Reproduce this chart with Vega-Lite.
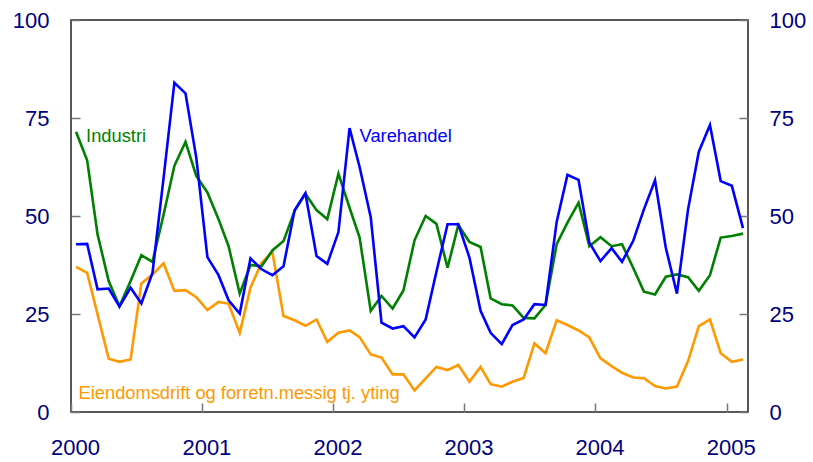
{
  "$schema": "https://vega.github.io/schema/vega-lite/v6.json",
  "width": 677,
  "height": 392,
  "autosize": {"type": "none"},
  "padding": {"left": 71, "top": 20, "right": 65, "bottom": 50},
  "background": "white",
  "config": {
    "view": {"stroke": "#222222", "strokeWidth": 1.5},
    "font": "Liberation Sans"
  },
  "datasets": {
    "series": [
      {"date": "2000-01-15", "Industri": 71.5, "Varehandel": 42.8, "Eiendomsdrift": 37.0},
      {"date": "2000-02-15", "Industri": 64.2, "Varehandel": 42.9, "Eiendomsdrift": 35.5},
      {"date": "2000-03-15", "Industri": 45.3, "Varehandel": 31.3, "Eiendomsdrift": 24.9},
      {"date": "2000-04-15", "Industri": 33.4, "Varehandel": 31.5, "Eiendomsdrift": 13.6},
      {"date": "2000-05-15", "Industri": 27.0, "Varehandel": 26.9, "Eiendomsdrift": 12.8},
      {"date": "2000-06-15", "Industri": 33.4, "Varehandel": 31.7, "Eiendomsdrift": 13.4},
      {"date": "2000-07-15", "Industri": 40.0, "Varehandel": 27.7, "Eiendomsdrift": 32.8},
      {"date": "2000-08-15", "Industri": 38.3, "Varehandel": 35.5, "Eiendomsdrift": 35.1},
      {"date": "2000-09-15", "Industri": 50.4, "Varehandel": 59.8, "Eiendomsdrift": 37.9},
      {"date": "2000-10-15", "Industri": 62.8, "Varehandel": 84.0, "Eiendomsdrift": 30.9},
      {"date": "2000-11-15", "Industri": 68.9, "Varehandel": 81.3, "Eiendomsdrift": 31.1},
      {"date": "2000-12-15", "Industri": 60.2, "Varehandel": 64.9, "Eiendomsdrift": 29.3},
      {"date": "2001-01-15", "Industri": 56.0, "Varehandel": 39.5, "Eiendomsdrift": 26.0},
      {"date": "2001-02-15", "Industri": 49.2, "Varehandel": 34.9, "Eiendomsdrift": 28.1},
      {"date": "2001-03-15", "Industri": 42.3, "Varehandel": 28.5, "Eiendomsdrift": 27.6},
      {"date": "2001-04-15", "Industri": 30.2, "Varehandel": 25.1, "Eiendomsdrift": 20.2},
      {"date": "2001-05-15", "Industri": 37.5, "Varehandel": 39.2, "Eiendomsdrift": 31.7},
      {"date": "2001-06-15", "Industri": 37.2, "Varehandel": 36.4, "Eiendomsdrift": 38.1},
      {"date": "2001-07-15", "Industri": 41.2, "Varehandel": 34.9, "Eiendomsdrift": 40.8},
      {"date": "2001-08-15", "Industri": 43.6, "Varehandel": 37.2, "Eiendomsdrift": 24.5},
      {"date": "2001-09-15", "Industri": 51.3, "Varehandel": 51.5, "Eiendomsdrift": 23.4},
      {"date": "2001-10-15", "Industri": 55.7, "Varehandel": 55.8, "Eiendomsdrift": 22.0},
      {"date": "2001-11-15", "Industri": 51.5, "Varehandel": 39.8, "Eiendomsdrift": 23.6},
      {"date": "2001-12-15", "Industri": 49.2, "Varehandel": 37.8, "Eiendomsdrift": 17.9},
      {"date": "2002-01-15", "Industri": 60.8, "Varehandel": 45.9, "Eiendomsdrift": 20.2},
      {"date": "2002-02-15", "Industri": 52.1, "Varehandel": 72.4, "Eiendomsdrift": 20.8},
      {"date": "2002-03-15", "Industri": 44.5, "Varehandel": 62.5, "Eiendomsdrift": 19.1},
      {"date": "2002-04-15", "Industri": 25.8, "Varehandel": 49.7, "Eiendomsdrift": 14.7},
      {"date": "2002-05-15", "Industri": 29.6, "Varehandel": 22.8, "Eiendomsdrift": 13.9},
      {"date": "2002-06-15", "Industri": 26.4, "Varehandel": 21.3, "Eiendomsdrift": 9.6},
      {"date": "2002-07-15", "Industri": 31.0, "Varehandel": 21.9, "Eiendomsdrift": 9.6},
      {"date": "2002-08-15", "Industri": 43.8, "Varehandel": 19.0, "Eiendomsdrift": 5.5},
      {"date": "2002-09-15", "Industri": 50.0, "Varehandel": 23.6, "Eiendomsdrift": 8.6},
      {"date": "2002-10-15", "Industri": 48.0, "Varehandel": 35.8, "Eiendomsdrift": 11.5},
      {"date": "2002-11-15", "Industri": 36.8, "Varehandel": 47.9, "Eiendomsdrift": 10.7},
      {"date": "2002-12-15", "Industri": 47.7, "Varehandel": 47.9, "Eiendomsdrift": 12.0},
      {"date": "2003-01-15", "Industri": 43.4, "Varehandel": 39.4, "Eiendomsdrift": 7.7},
      {"date": "2003-02-15", "Industri": 42.1, "Varehandel": 25.8, "Eiendomsdrift": 11.5},
      {"date": "2003-03-15", "Industri": 29.0, "Varehandel": 20.2, "Eiendomsdrift": 7.1},
      {"date": "2003-04-15", "Industri": 27.5, "Varehandel": 17.3, "Eiendomsdrift": 6.5},
      {"date": "2003-05-15", "Industri": 27.2, "Varehandel": 22.2, "Eiendomsdrift": 7.7},
      {"date": "2003-06-15", "Industri": 24.0, "Varehandel": 23.6, "Eiendomsdrift": 8.7},
      {"date": "2003-07-15", "Industri": 23.9, "Varehandel": 27.5, "Eiendomsdrift": 17.5},
      {"date": "2003-08-15", "Industri": 27.3, "Varehandel": 27.3, "Eiendomsdrift": 15.0},
      {"date": "2003-09-15", "Industri": 42.8, "Varehandel": 48.5, "Eiendomsdrift": 23.4},
      {"date": "2003-10-15", "Industri": 48.3, "Varehandel": 60.5, "Eiendomsdrift": 22.2},
      {"date": "2003-11-15", "Industri": 53.4, "Varehandel": 59.2, "Eiendomsdrift": 20.8},
      {"date": "2003-12-15", "Industri": 42.3, "Varehandel": 43.2, "Eiendomsdrift": 19.0},
      {"date": "2004-01-15", "Industri": 44.6, "Varehandel": 38.5, "Eiendomsdrift": 13.7},
      {"date": "2004-02-15", "Industri": 42.3, "Varehandel": 41.8, "Eiendomsdrift": 11.7},
      {"date": "2004-03-15", "Industri": 42.8, "Varehandel": 38.3, "Eiendomsdrift": 10.0},
      {"date": "2004-04-15", "Industri": 36.8, "Varehandel": 43.6, "Eiendomsdrift": 8.8},
      {"date": "2004-05-15", "Industri": 30.7, "Varehandel": 51.7, "Eiendomsdrift": 8.6},
      {"date": "2004-06-15", "Industri": 30.0, "Varehandel": 59.1, "Eiendomsdrift": 6.6},
      {"date": "2004-07-15", "Industri": 34.5, "Varehandel": 41.9, "Eiendomsdrift": 6.0},
      {"date": "2004-08-15", "Industri": 35.1, "Varehandel": 30.2, "Eiendomsdrift": 6.5},
      {"date": "2004-09-15", "Industri": 34.4, "Varehandel": 51.7, "Eiendomsdrift": 13.0},
      {"date": "2004-10-15", "Industri": 30.9, "Varehandel": 66.4, "Eiendomsdrift": 21.9},
      {"date": "2004-11-15", "Industri": 34.9, "Varehandel": 73.2, "Eiendomsdrift": 23.6},
      {"date": "2004-12-15", "Industri": 44.5, "Varehandel": 58.9, "Eiendomsdrift": 15.0},
      {"date": "2005-01-15", "Industri": 44.9, "Varehandel": 57.7, "Eiendomsdrift": 12.8},
      {"date": "2005-02-15", "Industri": 45.5, "Varehandel": 46.9, "Eiendomsdrift": 13.4}
    ],
    "labels": [
      {"date": "2000-02-12", "value": 70.2, "series": "Industri", "label": "Industri"},
      {"date": "2002-03-15", "value": 70.2, "series": "Varehandel", "label": "Varehandel"},
      {"date": "2000-01-22", "value": 4.5, "series": "Eiendomsdrift", "label": "Eiendomsdrift og forretn.messig tj. yting"}
    ]
  },
  "layer": [
    {
      "data": {"name": "series"},
      "transform": [{"fold": ["Eiendomsdrift", "Industri", "Varehandel"], "as": ["series", "value"]}],
      "mark": {"type": "line", "strokeWidth": 2.6, "strokeJoin": "miter", "clip": true},
      "encoding": {
        "x": {
          "field": "date", "type": "temporal",
          "scale": {"type": "utc", "domain": [{"year": 2000, "month": 1, "date": 1, "utc": true}, {"year": 2005, "month": 3, "date": 1, "utc": true}]},
          "axis": {
            "title": null, "grid": false, "domain": false,
            "values": [{"year": 2000, "utc": true}, {"year": 2001, "utc": true}, {"year": 2002, "utc": true}, {"year": 2003, "utc": true}, {"year": 2004, "utc": true}, {"year": 2005, "utc": true}],
            "format": "%Y", "formatType": "utc",
            "tickSize": -9, "tickColor": "#777777", "tickWidth": 1.5,
            "labelFontSize": 22, "labelFont": "Liberation Sans", "labelColor": "#000080",
            "labelPadding": 34, "labelOffset": 4, "labelFlush": false, "labelOverlap": false
          }
        },
        "y": {
          "field": "value", "type": "quantitative",
          "scale": {"domain": [0, 100]},
          "axis": {
            "orient": "left", "title": null, "grid": false, "domain": false,
            "values": [0, 25, 50, 75, 100],
            "tickSize": -9, "tickColor": "#777777", "tickWidth": 1.5,
            "labelFontSize": 22, "labelFont": "Liberation Sans", "labelColor": "#000080",
            "labelPadding": 31
          }
        },
        "color": {
          "field": "series", "type": "nominal",
          "scale": {"domain": ["Industri", "Varehandel", "Eiendomsdrift"], "range": ["#008000", "#0000ff", "#ff9900"]},
          "legend": null
        }
      }
    },
    {
      "data": {"name": "labels"},
      "mark": {"type": "text", "align": "left", "baseline": "middle", "fontSize": 18.3, "font": "Liberation Sans"},
      "encoding": {
        "x": {"field": "date", "type": "temporal"},
        "y": {
          "field": "value", "type": "quantitative",
          "scale": {"domain": [0, 100]},
          "axis": {
            "orient": "right", "title": null, "grid": false, "domain": false,
            "values": [0, 25, 50, 75, 100],
            "tickSize": -9, "tickColor": "#777777", "tickWidth": 1.5,
            "labelFontSize": 22, "labelFont": "Liberation Sans", "labelColor": "#000080",
            "labelPadding": 30
          }
        },
        "text": {"field": "label"},
        "color": {"field": "series", "type": "nominal"}
      }
    }
  ],
  "resolve": {"scale": {"y": "independent"}}
}
